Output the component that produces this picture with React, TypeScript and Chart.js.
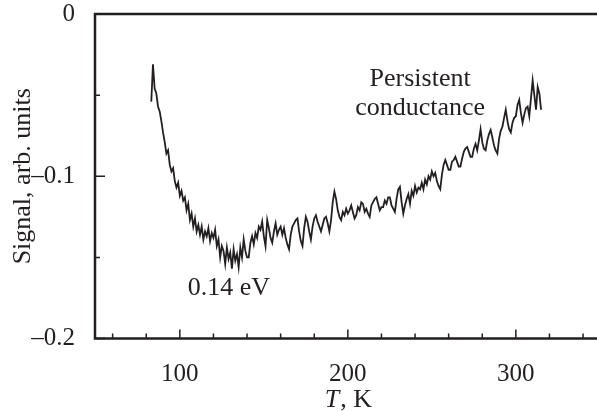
import React, { useEffect, useRef } from "react";
import Chart from "chart.js/auto";

const temperature: number[] = [
  83, 84, 85, 86, 87, 88, 89, 90, 91, 92,
  93, 94, 95, 96, 97, 98, 99, 100, 101, 102,
  103, 104, 105, 106, 107, 108, 109, 110, 111, 112,
  113, 114, 115, 116, 117, 118, 119, 120, 121, 122,
  123, 124, 125, 126, 127, 128, 129, 130, 131, 132,
  133, 134, 135, 136, 137,
  138, 139, 140, 141, 142, 143, 144, 145, 146, 147,
  148, 149, 150, 151, 152, 153, 154, 155, 156, 157,
  158, 159, 160, 161, 162, 163, 164, 165, 166, 167,
  168, 169, 170, 171, 172, 173, 174, 175, 176, 177,
  178, 179, 180, 181, 182, 183, 184, 185, 186, 187,
  188, 189, 190, 191, 192, 193, 194, 195, 196, 197,
  198, 199, 200, 201, 202, 203, 204, 205, 206, 207,
  208, 209, 210, 211, 212, 213, 214, 215, 216, 217,
  218, 219, 220, 221, 222, 223, 224, 225, 226, 227,
  228, 229, 230, 231, 232, 233, 234, 235, 236, 237,
  238, 239, 240, 241, 242, 243, 244, 245, 246, 247,
  248, 249, 250, 251, 252, 253, 254, 255, 256, 257,
  258, 259, 260, 261, 262, 263, 264, 265, 266, 267,
  268, 269, 270, 271, 272, 273, 274, 275, 276, 277,
  278, 279, 280, 281, 282, 283, 284, 285, 286, 287,
  288, 289, 290, 291, 292, 293, 294, 295, 296, 297,
  298, 299, 300, 301, 302, 303, 304, 305, 306, 307,
  308, 309, 310, 311, 312, 313, 314, 315,
];

const signal: number[] = [
  -0.054, -0.031, -0.046, -0.049, -0.057, -0.06, -0.066, -0.073, -0.079, -0.086,
  -0.084, -0.093, -0.097, -0.095, -0.103, -0.107, -0.104, -0.112, -0.109, -0.115,
  -0.113, -0.121, -0.117, -0.127, -0.123, -0.131, -0.126, -0.134, -0.13, -0.136,
  -0.131, -0.139, -0.134, -0.137, -0.132, -0.14, -0.135, -0.138, -0.133, -0.143,
  -0.139, -0.15, -0.143, -0.146, -0.154, -0.144, -0.151, -0.147, -0.157, -0.145,
  -0.152, -0.148, -0.156, -0.144, -0.15,
  -0.139, -0.146, -0.15, -0.15, -0.141, -0.137, -0.142, -0.135, -0.138, -0.131,
  -0.133, -0.128, -0.137, -0.143, -0.127, -0.132, -0.138, -0.141, -0.134, -0.129,
  -0.136, -0.133, -0.131, -0.136, -0.132, -0.138, -0.142, -0.145, -0.136, -0.131,
  -0.129, -0.127, -0.126, -0.134, -0.14, -0.143, -0.132, -0.125, -0.128, -0.134,
  -0.139, -0.131, -0.126, -0.124, -0.128, -0.131, -0.134, -0.13, -0.126, -0.125,
  -0.129, -0.134, -0.127, -0.116, -0.1095, -0.114, -0.121, -0.125, -0.127, -0.122,
  -0.124, -0.12, -0.123, -0.121, -0.118, -0.122, -0.126, -0.124, -0.119, -0.121,
  -0.116, -0.117, -0.122, -0.12, -0.123, -0.125, -0.118, -0.116, -0.114, -0.113,
  -0.117, -0.121, -0.119, -0.119, -0.115, -0.117, -0.113, -0.113, -0.118, -0.12,
  -0.122, -0.114, -0.108, -0.1065, -0.116, -0.123, -0.118, -0.114, -0.111, -0.117,
  -0.109, -0.112, -0.106, -0.11, -0.107, -0.108, -0.104, -0.108, -0.102, -0.105,
  -0.1, -0.102, -0.097, -0.1, -0.098, -0.103, -0.106, -0.108, -0.099, -0.093,
  -0.09, -0.093, -0.096, -0.096, -0.091, -0.09, -0.088, -0.091, -0.094, -0.094,
  -0.089, -0.085, -0.083, -0.082, -0.085, -0.088, -0.088, -0.083, -0.08, -0.084,
  -0.078, -0.071, -0.079, -0.083, -0.084, -0.078, -0.074, -0.0715, -0.076, -0.081,
  -0.084, -0.086, -0.077, -0.072, -0.0695, -0.064, -0.059, -0.066, -0.071, -0.073,
  -0.067, -0.064, -0.063, -0.056, -0.053, -0.061, -0.067, -0.062, -0.058, -0.057,
  -0.063, -0.052, -0.041, -0.05, -0.059, -0.045, -0.049, -0.059,
];

const xTickValues: number[] = [100, 200, 300];
const xMinorTicks: number[] = [60, 80, 120, 140, 160, 180, 220, 240, 260, 280, 320, 340];
const yTickValues: number[] = [-0.2, -0.1, 0];
const yMinorTicks: number[] = [-0.15, -0.05];

const xTitleItalic = "T";
const xTitleRest = ", K";
const yTitle = "Signal, arb. units";
const noteMin = "0.14 eV";
const noteMinAt = { x: 129.2, y: -0.1732 };
const notePersist = ["Persistent", "conductance"];
const notePersistAt = { x: 243, y: [-0.0444, -0.0622] };

const INK = "#231f20";
const FONT = "'Liberation Serif', 'Times New Roman', serif";

export default function App() {
  const ref = useRef<HTMLCanvasElement | null>(null);

  useEffect(() => {
    const canvas = ref.current;
    if (!canvas) return;

    const decor = {
      id: "decor",
      afterDraw(chart: any) {
        const ctx = chart.ctx as CanvasRenderingContext2D;
        const xs = chart.scales.x;
        const ys = chart.scales.y;
        const a = chart.chartArea;
        const W = chart.width;
        ctx.save();
        ctx.strokeStyle = INK;
        ctx.lineWidth = 2.5;
        ctx.lineCap = "butt";
        ctx.beginPath();
        ctx.moveTo(a.left, a.top - 1.25);
        ctx.lineTo(a.left, a.bottom + 1.25);
        ctx.moveTo(a.left - 1.25, a.top);
        ctx.lineTo(W, a.top);
        ctx.moveTo(a.left - 1.25, a.bottom);
        ctx.lineTo(W, a.bottom);
        ctx.stroke();

        ctx.lineWidth = 1.5;
        ctx.beginPath();
        for (const v of xTickValues) {
          const px = xs.getPixelForValue(v);
          ctx.moveTo(px, a.bottom);
          ctx.lineTo(px, a.bottom - 9);
        }
        for (const v of xMinorTicks) {
          const px = xs.getPixelForValue(v);
          ctx.moveTo(px, a.bottom);
          ctx.lineTo(px, a.bottom - 5);
        }
        for (const v of yTickValues) {
          const py = ys.getPixelForValue(v);
          ctx.moveTo(a.left, py);
          ctx.lineTo(a.left + 10, py);
        }
        for (const v of yMinorTicks) {
          const py = ys.getPixelForValue(v);
          ctx.moveTo(a.left, py);
          ctx.lineTo(a.left + 5, py);
        }
        ctx.stroke();

        ctx.fillStyle = INK;
        ctx.textBaseline = "alphabetic";
        ctx.textAlign = "center";
        ctx.font = `26px ${FONT}`;
        ctx.fillText(noteMin, xs.getPixelForValue(noteMinAt.x), ys.getPixelForValue(noteMinAt.y));
        notePersist.forEach((t, i) => {
          ctx.fillText(t, xs.getPixelForValue(notePersistAt.x), ys.getPixelForValue(notePersistAt.y[i]));
        });

        // x title
        ctx.textAlign = "left";
        ctx.font = `italic 26px ${FONT}`;
        const wI = ctx.measureText(xTitleItalic).width;
        ctx.font = `26px ${FONT}`;
        const wR = ctx.measureText(xTitleRest).width;
        const cx = xs.getPixelForValue(200);
        const x0 = cx - (wI + wR) / 2;
        ctx.font = `italic 26px ${FONT}`;
        ctx.fillText(xTitleItalic, x0, 407);
        ctx.font = `26px ${FONT}`;
        ctx.fillText(xTitleRest, x0 + wI + 1, 407);

        // y title
        ctx.save();
        ctx.translate(30, ys.getPixelForValue(-0.1));
        ctx.rotate(-Math.PI / 2);
        ctx.textAlign = "center";
        ctx.fillText(yTitle, 0, 0);
        ctx.restore();
        ctx.restore();
      },
    };

    const chart = new Chart(canvas, {
      type: "line",
      data: {
        datasets: [
          {
            data: temperature.map((t, i) => ({ x: t, y: signal[i] })),
            borderColor: INK,
            borderWidth: 1.8,
            pointRadius: 0,
            tension: 0,
            fill: false,
          },
        ],
      },
      options: {
        animation: false,
        responsive: false,
        devicePixelRatio: 1,
        layout: { padding: { top: 14, right: 0, left: 0, bottom: 0 } },
        plugins: { legend: { display: false }, tooltip: { enabled: false }, title: { display: false } },
        scales: {
          x: {
            type: "linear",
            min: 49.5,
            max: 348.3,
            grid: { display: false },
            border: { display: false },
            afterBuildTicks: (s: any) => {
              s.ticks = xTickValues.map((v) => ({ value: v }));
            },
            afterFit: (s: any) => {
              s.height = 72.5;
              s.paddingLeft = 0;
              s.paddingRight = 0;
            },
            ticks: {
              color: INK,
              padding: 15,
              maxRotation: 0,
              font: { family: FONT, size: 25, lineHeight: 1 },
              callback: (v: any) => String(v),
            },
          },
          y: {
            type: "linear",
            min: -0.2,
            max: 0,
            grid: { display: false },
            border: { display: false },
            afterBuildTicks: (s: any) => {
              s.ticks = yTickValues.map((v) => ({ value: v }));
            },
            afterFit: (s: any) => {
              s.width = 95;
              s.paddingTop = 0;
              s.paddingBottom = 0;
            },
            ticks: {
              color: INK,
              padding: 12,
              font: { family: FONT, size: 25, lineHeight: 1 },
              callback: (v: any) => {
                const n = Number(v);
                if (Math.abs(n) < 1e-9) return "0";
                return "\u2013" + Math.abs(n).toFixed(1);
              },
            },
          },
        },
      },
      plugins: [decor],
    });

    return () => chart.destroy();
  }, []);

  return (
    <div style={{ position: "absolute", left: 0, top: 0, width: 597, height: 411, background: "#fff" }}>
      <canvas ref={ref} width={597} height={411} style={{ display: "block" }} />
    </div>
  );
}
